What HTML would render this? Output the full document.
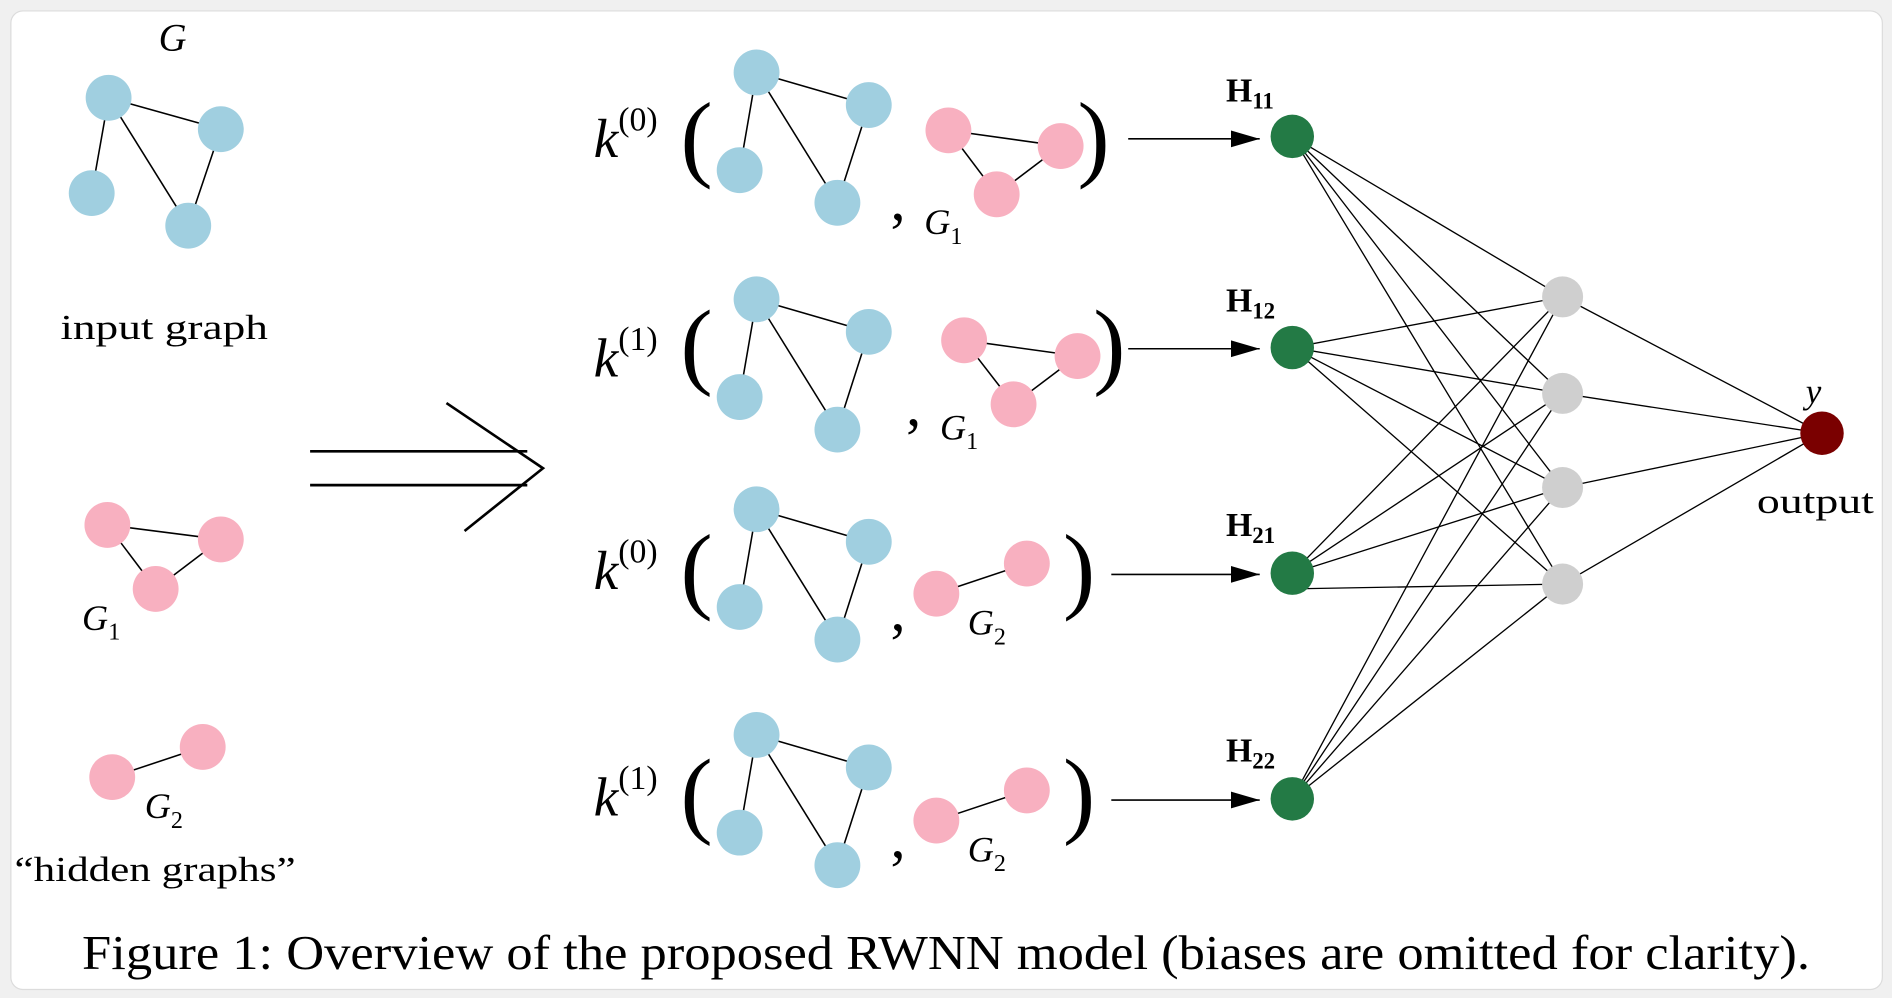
<!DOCTYPE html>
<html><head><meta charset="utf-8"><style>
html,body{margin:0;padding:0;background:#f2f2f2;}
svg{display:block;}
text{font-family:"Liberation Serif",serif;fill:#000;}
</style></head><body>
<svg width="1892" height="998" viewBox="0 0 1568 827" xmlns="http://www.w3.org/2000/svg">
<defs><marker id="ah" markerWidth="26" markerHeight="16" refX="24" refY="8" orient="auto" markerUnits="userSpaceOnUse"><path d="M0,1 L24,8 L0,15 z" fill="#000"/></marker></defs>
<rect x="0" y="0" width="1568" height="827" fill="#f0f0f0"/>
<rect x="9" y="9" width="1551" height="811" rx="10" fill="#fff" stroke="#dcdcdc" stroke-width="1"/>
<g stroke="#000" stroke-width="1.3">
<line x1="90" y1="81" x2="183" y2="107"/><line x1="90" y1="81" x2="76" y2="160"/><line x1="90" y1="81" x2="156" y2="187"/><line x1="183" y1="107" x2="156" y2="187"/>
<line x1="89" y1="435" x2="183" y2="447"/><line x1="89" y1="435" x2="129" y2="488"/><line x1="183" y1="447" x2="129" y2="488"/>
<line x1="93" y1="644" x2="168" y2="619"/>
<g><line x1="627" y1="60" x2="720" y2="87"/><line x1="627" y1="60" x2="613" y2="141"/><line x1="627" y1="60" x2="694" y2="168"/><line x1="720" y1="87" x2="694" y2="168"/></g>
<g transform="translate(0,188)"><line x1="627" y1="60" x2="720" y2="87"/><line x1="627" y1="60" x2="613" y2="141"/><line x1="627" y1="60" x2="694" y2="168"/><line x1="720" y1="87" x2="694" y2="168"/></g>
<g transform="translate(0,362)"><line x1="627" y1="60" x2="720" y2="87"/><line x1="627" y1="60" x2="613" y2="141"/><line x1="627" y1="60" x2="694" y2="168"/><line x1="720" y1="87" x2="694" y2="168"/></g>
<g transform="translate(0,549)"><line x1="627" y1="60" x2="720" y2="87"/><line x1="627" y1="60" x2="613" y2="141"/><line x1="627" y1="60" x2="694" y2="168"/><line x1="720" y1="87" x2="694" y2="168"/></g>
<line x1="786" y1="108" x2="879" y2="121"/><line x1="786" y1="108" x2="826" y2="161"/><line x1="879" y1="121" x2="826" y2="161"/>
<line x1="799" y1="282" x2="893" y2="295"/><line x1="799" y1="282" x2="840" y2="335"/><line x1="893" y1="295" x2="840" y2="335"/>
<line x1="776" y1="492" x2="851" y2="467"/>
<line x1="776" y1="680" x2="851" y2="655"/>
<line x1="935" y1="115" x2="1044" y2="115" marker-end="url(#ah)"/>
<line x1="935" y1="289" x2="1044" y2="289" marker-end="url(#ah)"/>
<line x1="921" y1="476" x2="1044" y2="476" marker-end="url(#ah)"/>
<line x1="921" y1="663" x2="1044" y2="663" marker-end="url(#ah)"/>
<g stroke-width="1.1">
<line x1="1071" y1="113" x2="1295" y2="246"/><line x1="1071" y1="113" x2="1295" y2="326"/><line x1="1071" y1="113" x2="1295" y2="404"/><line x1="1071" y1="113" x2="1295" y2="484"/>
<line x1="1071" y1="288" x2="1295" y2="246"/><line x1="1071" y1="288" x2="1295" y2="326"/><line x1="1071" y1="288" x2="1295" y2="404"/><line x1="1071" y1="288" x2="1295" y2="484"/>
<line x1="1071" y1="475" x2="1295" y2="246"/><line x1="1071" y1="475" x2="1295" y2="326"/><line x1="1071" y1="475" x2="1295" y2="404"/><line x1="1071" y1="488" x2="1295" y2="484"/>
<line x1="1071" y1="662" x2="1295" y2="246"/><line x1="1071" y1="662" x2="1295" y2="326"/><line x1="1071" y1="662" x2="1295" y2="404"/><line x1="1071" y1="662" x2="1295" y2="484"/>
<line x1="1295" y1="246" x2="1510" y2="359"/><line x1="1295" y1="326" x2="1510" y2="359"/><line x1="1295" y1="404" x2="1510" y2="359"/><line x1="1295" y1="484" x2="1510" y2="359"/>
</g>
<g stroke-width="2.2" fill="none"><line x1="257" y1="374" x2="437" y2="374"/><line x1="257" y1="402" x2="437" y2="402"/><polyline points="370,334 450,388 385,440"/></g>
</g>
<g fill="#a0cfe0">
<circle cx="90" cy="81" r="19"/><circle cx="183" cy="107" r="19"/><circle cx="76" cy="160" r="19"/><circle cx="156" cy="187" r="19"/>
<g id="bn"><circle cx="627" cy="60" r="19"/><circle cx="720" cy="87" r="19"/><circle cx="613" cy="141" r="19"/><circle cx="694" cy="168" r="19"/></g>
<use href="#bn" y="188"/><use href="#bn" y="362"/><use href="#bn" y="549"/>
</g>
<g fill="#f8b0c0">
<circle cx="89" cy="435" r="19"/><circle cx="183" cy="447" r="19"/><circle cx="129" cy="488" r="19"/>
<circle cx="93" cy="644" r="19"/><circle cx="168" cy="619" r="19"/>
<circle cx="786" cy="108" r="19"/><circle cx="879" cy="121" r="19"/><circle cx="826" cy="161" r="19"/>
<circle cx="799" cy="282" r="19"/><circle cx="893" cy="295" r="19"/><circle cx="840" cy="335" r="19"/>
<circle cx="776" cy="492" r="19"/><circle cx="851" cy="467" r="19"/>
<circle cx="776" cy="680" r="19"/><circle cx="851" cy="655" r="19"/>
</g>
<g fill="#237a45"><circle cx="1071" cy="113" r="18"/><circle cx="1071" cy="288" r="18"/><circle cx="1071" cy="475" r="18"/><circle cx="1071" cy="662" r="18"/></g>
<g fill="#cfcfcf"><circle cx="1295" cy="246" r="17"/><circle cx="1295" cy="326" r="17"/><circle cx="1295" cy="404" r="17"/><circle cx="1295" cy="484" r="17"/></g>
<circle cx="1510" cy="359" r="18" fill="#7a0000"/>
<g font-size="29">
<text x="143" y="42" text-anchor="middle" font-style="italic" font-size="32">G</text>
<text x="50" y="281" textLength="172" lengthAdjust="spacingAndGlyphs">input graph</text>
<text x="68" y="522" font-style="italic" font-size="30">G<tspan font-size="20" font-style="normal" dy="8">1</tspan></text>
<text x="120" y="678" font-style="italic" font-size="30">G<tspan font-size="20" font-style="normal" dy="8">2</tspan></text>
<text x="12" y="730" textLength="233" lengthAdjust="spacingAndGlyphs">“hidden graphs”</text>
<text x="1456" y="425" textLength="97" lengthAdjust="spacingAndGlyphs">output</text>
<text x="1503" y="334" text-anchor="middle" font-style="italic">y</text>
</g>
<g font-size="46">
<text x="492" y="130" font-style="italic">k<tspan font-size="28" font-style="normal" dy="-22">(0)</tspan></text>
<text x="492" y="312" font-style="italic">k<tspan font-size="28" font-style="normal" dy="-22">(1)</tspan></text>
<text x="492" y="488" font-style="italic">k<tspan font-size="28" font-style="normal" dy="-22">(0)</tspan></text>
<text x="492" y="676" font-style="italic">k<tspan font-size="28" font-style="normal" dy="-22">(1)</tspan></text>
</g>
<g font-size="80" font-weight="300">
<text x="564" y="140">(</text><text x="893" y="140">)</text>
<text x="564" y="312">(</text><text x="906" y="312">)</text>
<text x="564" y="498">(</text><text x="881" y="498">)</text>
<text x="564" y="684">(</text><text x="881" y="684">)</text>
</g>
<g font-size="50">
<text x="738" y="182">,</text><text x="751" y="352">,</text><text x="738" y="522">,</text><text x="738" y="710">,</text>
</g>
<g font-size="30" font-style="italic">
<text x="766" y="194">G<tspan font-size="20" font-style="normal" dy="8">1</tspan></text>
<text x="779" y="364">G<tspan font-size="20" font-style="normal" dy="8">1</tspan></text>
<text x="802" y="526">G<tspan font-size="20" font-style="normal" dy="8">2</tspan></text>
<text x="802" y="714">G<tspan font-size="20" font-style="normal" dy="8">2</tspan></text>
</g>
<g font-size="28" font-weight="bold">
<text x="1016" y="84">H<tspan font-size="19" dy="6">11</tspan></text>
<text x="1016" y="258">H<tspan font-size="19" dy="6">12</tspan></text>
<text x="1016" y="444">H<tspan font-size="19" dy="6">21</tspan></text>
<text x="1016" y="631">H<tspan font-size="19" dy="6">22</tspan></text>
</g>
<text x="68" y="803" font-size="40" textLength="1432" lengthAdjust="spacingAndGlyphs">Figure 1: Overview of the proposed RWNN model (biases are omitted for clarity).</text>
</svg>
</body></html>
